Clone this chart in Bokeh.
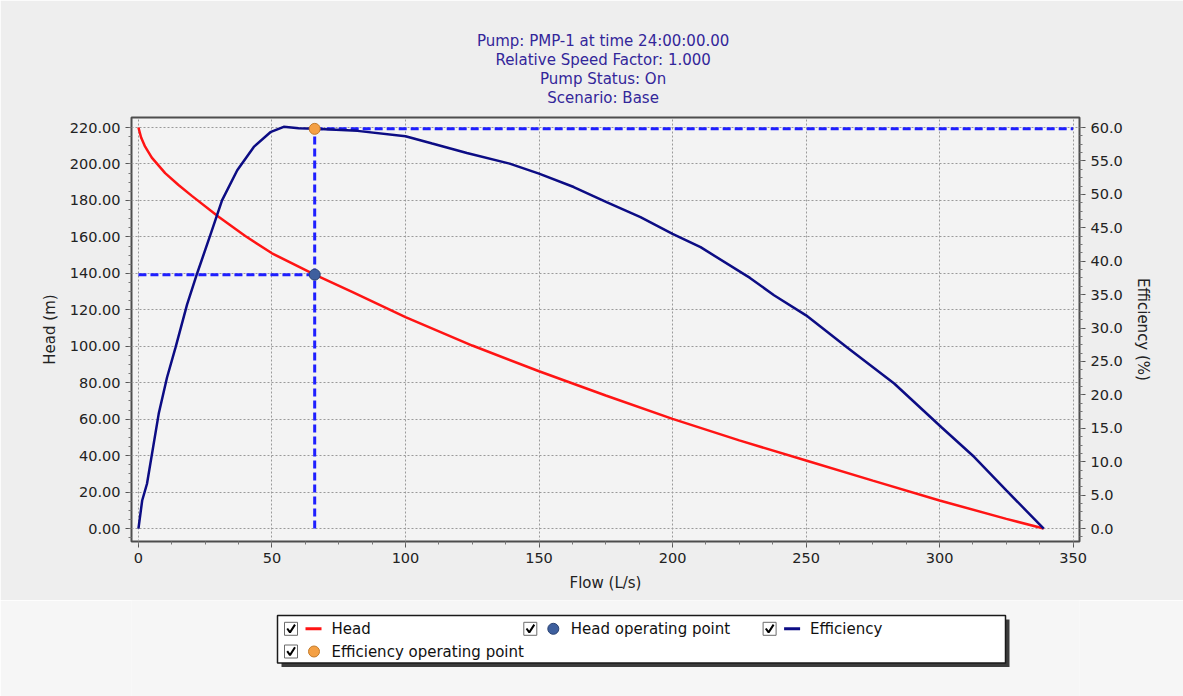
from bokeh.plotting import figure
from bokeh.models import Range1d, LinearAxis, FixedTicker, PrintfTickFormatter, ColumnDataSource, Title
from bokeh.layouts import column
from bokeh.embed import file_html
from bokeh.resources import INLINE
from bokeh.core.properties import value

# ---------------- data ----------------
title_lines = [
    "Pump:  PMP-1 at time 24:00:00.00",
    "Relative Speed Factor:  1.000",
    "Pump Status:  On",
    "Scenario:  Base",
]

head_flow = [0, 1, 2.5, 5, 10, 15, 20, 30, 40, 50, 66, 80, 100, 125, 150, 175, 200, 225, 250, 275, 300, 325, 339]
head_values = [220, 214.5, 209.5, 203.5, 195, 188.5, 182.5, 171, 160.5, 151, 139.3, 129.8, 116, 100.4, 86.3, 73,
               60.2, 48.4, 37.3, 26.3, 15.4, 5.3, 0]

eff_flow = [0, 1.4, 3.2, 7.6, 10.7, 13.9, 18.2, 22, 27, 31.3, 37, 43.2, 49.4, 54.4, 60, 66, 82, 100, 110, 123,
            139, 150, 163, 175.5, 188, 200, 210.5, 229, 238, 250, 265.4, 283, 300.6, 313, 325, 339]
eff_values = [0, 4.2, 6.7, 17.2, 22.6, 27.1, 33.5, 38.2, 44, 49.1, 53.6, 57.1, 59.3, 60.1, 59.9, 59.8, 59.5, 58.7,
              57.6, 56.2, 54.6, 53.1, 51.1, 48.8, 46.6, 44.1, 42.1, 37.5, 34.9, 31.9, 27.1, 21.7, 15.2, 10.7, 5.7, 0]

op_flow = 66.0
op_head = 139.3
op_eff = 59.8

x_ticks = [0, 50, 100, 150, 200, 250, 300, 350]
head_ticks = [0, 20, 40, 60, 80, 100, 120, 140, 160, 180, 200, 220]
eff_ticks = [0, 5, 10, 15, 20, 25, 30, 35, 40, 45, 50, 55, 60]

legend_labels = ["Head", "Head operating point", "Efficiency", "Efficiency operating point"]
legend_kinds = ["line", "dot", "line", "dot"]

# ---------------- styles ----------------
FONT = "DejaVu Sans"
HEAD_COLOR = "#ff1414"
EFF_COLOR = "#0c0c84"
HEAD_OP_FILL = "#3e5f9e"
HEAD_OP_LINE = "#2a4272"
EFF_OP_FILL = "#f4a044"
EFF_OP_LINE = "#c47c2c"
DASH_COLOR = "#1f1fff"
TITLE_COLOR = "#33269a"
legend_colors = [HEAD_COLOR, HEAD_OP_FILL, EFF_COLOR, EFF_OP_FILL]
legend_lines = [HEAD_COLOR, HEAD_OP_LINE, EFF_COLOR, EFF_OP_LINE]

W = 1183
FRAME_L, FRAME_R = 131, 1079


def minor_between(ticks, n):
    out = []
    for a, b in zip(ticks[:-1], ticks[1:]):
        step = (b - a) / n
        out.extend(a + k * step for k in range(n))
    out.append(ticks[-1])
    out.append(ticks[0] - (ticks[1] - ticks[0]) / n)
    return out


p = figure(width=W, height=600,
           x_range=Range1d(-2.6, 352.4), y_range=Range1d(-7.1, 225.5),
           output_backend="svg", toolbar_location=None,
           min_border_left=FRAME_L, min_border_right=W - FRAME_R, min_border_top=117, min_border_bottom=59,
           background_fill_color="#f3f3f3", border_fill_color="#eeeeee",
           outline_line_color="#4d4d4d", outline_line_width=2)

p.extra_y_ranges = {"eff": Range1d(-7.1 * 60 / 220, 225.5 * 60 / 220)}


def style_title(t, standoff):
    t.align = "center"
    t.text_font = FONT
    t.text_font_size = "15px"
    t.text_font_style = "normal"
    t.text_color = TITLE_COLOR
    t.standoff = standoff


# p.title is the outermost (top) line; titles added first sit closest to the frame
p.title.text = title_lines[0]
style_title(p.title, -1.3)
spacer = Title(text=" ")
style_title(spacer, -9.35)
p.add_layout(spacer, "above")
for line in reversed(title_lines[1:]):
    t = Title(text=line)
    style_title(t, -1.3)
    p.add_layout(t, "above")

# axes
p.xaxis.ticker = FixedTicker(ticks=x_ticks, minor_ticks=minor_between(x_ticks, 4))
p.yaxis.ticker = FixedTicker(ticks=head_ticks, minor_ticks=minor_between(head_ticks, 4))
p.yaxis.formatter = PrintfTickFormatter(format="%.2f")
p.xaxis.axis_label = "Flow (L/s)"
p.yaxis.axis_label = "Head (m)"

eff_axis = LinearAxis(y_range_name="eff", axis_label="Efficiency (%)",
                      ticker=FixedTicker(ticks=eff_ticks, minor_ticks=minor_between(eff_ticks, 4)),
                      formatter=PrintfTickFormatter(format="%.1f"))
p.add_layout(eff_axis, "right")

for ax in p.xaxis + p.yaxis + [eff_axis]:
    ax.axis_line_color = None
    ax.major_tick_in = 0
    ax.major_tick_out = 6
    ax.minor_tick_in = 0
    ax.minor_tick_out = 3
    ax.major_tick_line_color = "#555555"
    ax.minor_tick_line_color = "#777777"
    ax.major_label_text_font = FONT
    ax.major_label_text_font_size = "14.5px"
    ax.major_label_text_color = "#222222"
    ax.major_label_standoff = 5
    ax.axis_label_text_font = FONT
    ax.axis_label_text_font_size = "15px"
    ax.axis_label_text_font_style = "normal"
    ax.axis_label_text_color = "#222222"
    ax.axis_label_standoff = 8

# grid
p.xgrid.ticker = FixedTicker(ticks=x_ticks)
p.ygrid.ticker = FixedTicker(ticks=head_ticks)
p.grid.grid_line_color = "#9a9a9a"
p.grid.grid_line_dash = "2 2"
p.grid.grid_line_width = 1

# curves
head_src = ColumnDataSource(dict(flow=head_flow, head=head_values))
eff_src = ColumnDataSource(dict(flow=eff_flow, eff=eff_values))

# operating point guide lines
p.segment(x0=[x_ticks[0]], y0=[op_head], x1=[op_flow], y1=[op_head],
          line_color=DASH_COLOR, line_width=3, line_dash="8 4")
p.segment(x0=[op_flow], y0=[0], x1=[op_flow], y1=[op_eff], y_range_name="eff",
          line_color=DASH_COLOR, line_width=3, line_dash="8 4")
p.segment(x0=[op_flow], y0=[op_eff], x1=[x_ticks[-1]], y1=[op_eff], y_range_name="eff",
          line_color=DASH_COLOR, line_width=3, line_dash="8 4")

p.line("flow", "head", source=head_src, line_color=HEAD_COLOR, line_width=2.5)
p.line("flow", "eff", source=eff_src, y_range_name="eff", line_color=EFF_COLOR, line_width=2.5)

p.scatter([op_flow], [op_head], size=11, fill_color=HEAD_OP_FILL, line_color=HEAD_OP_LINE, line_width=1)
p.scatter([op_flow], [op_eff], size=11, fill_color=EFF_OP_FILL, line_color=EFF_OP_LINE, line_width=1,
          y_range_name="eff")

# ---------------- legend panel (coordinates = page pixels) ----------------
leg = figure(width=W, height=96, x_range=Range1d(FRAME_L, FRAME_R), y_range=Range1d(96, 0),
             output_backend="svg", toolbar_location=None,
             min_border_left=FRAME_L, min_border_right=W - FRAME_R, min_border_top=0, min_border_bottom=0,
             x_axis_type=None, y_axis_type=None,
             background_fill_color="#f6f6f6", border_fill_color="#f6f6f6", outline_line_color=None)
leg.grid.visible = False

box_l, box_r, box_t, box_b = 277, 1005, 15, 62.5
leg.quad(left=[box_l + 4], right=[box_r + 4], top=[box_t + 4], bottom=[box_b + 4],
         fill_color="#3c3c3c", line_color=None)
leg.quad(left=[box_l], right=[box_r], top=[box_t], bottom=[box_b],
         fill_color="white", line_color="#1a1a1a", line_width=1.5)

for i, (lab, kind) in enumerate(zip(legend_labels, legend_kinds)):
    col, row = i % 3, i // 3
    bx = 283.5 + col * 239.3
    cy = 28.3 + row * 22.7
    leg.rect(x=[bx + 7], y=[cy], width=13, height=13, fill_color="white", line_color="#6b6b6b", line_width=1)
    leg.line(x=[bx + 3.2, bx + 6, bx + 11], y=[cy - 0.3, cy + 3.6, cy - 4.2], line_color="black", line_width=2)
    if kind == "line":
        leg.line(x=[bx + 21.5, bx + 37.5], y=[cy, cy], line_color=legend_colors[i], line_width=3)
    else:
        leg.scatter(x=[bx + 30], y=[cy], size=11, fill_color=legend_colors[i], line_color=legend_lines[i])
    leg.text(x=[bx + 47.5], y=[cy], text=[lab], text_baseline="middle", text_align="left",
             text_font=value(FONT), text_font_size="15px", text_color="#111111")

layout = column(p, leg, spacing=0)
open("out.html", "w").write(file_html(layout, INLINE))
